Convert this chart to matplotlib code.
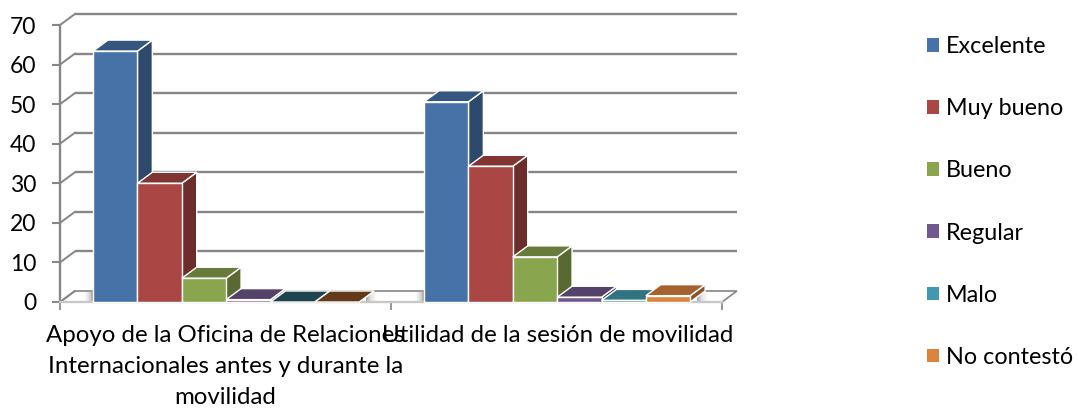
import matplotlib
matplotlib.use('Agg')
import numpy as np
import matplotlib.pyplot as plt
from matplotlib.patches import Polygon, Rectangle

plt.rcParams['font.family'] = ['Lato', 'DejaVu Sans']

categorias = ['Apoyo de la Oficina de Relaciones\nInternacionales antes y durante la\nmovilidad',
              'Utilidad de la sesión de movilidad']
series = ['Excelente', 'Muy bueno', 'Bueno', 'Regular', 'Malo', 'No contestó']
excelente = [63.4, 50.6]
muy_bueno = [30.0, 34.3]
bueno = [6.0, 11.4]
regular = [0.6, 1.2]
malo = [0.0, 0.4]
no_contesto = [0.0, 1.6]
valores = [excelente, muy_bueno, bueno, regular, malo, no_contesto]
colores = ['#4672A8', '#AA4643', '#89A54E', '#71588F', '#4198AF', '#DB843D']
y_ticks = [0, 10, 20, 30, 40, 50, 60, 70]

# profondeur du faux 3D en unites de donnees
dx = 0.045
dy = 2.78
gris = '#868686'
larg = 0.134
marge = 0.1


def assombrir(c, f):
    r = matplotlib.colors.to_rgb(c)
    return tuple(x * f for x in r)


fig = plt.figure(figsize=(10.78, 4.08), dpi=100)
ax = fig.add_axes([60 / 1078, (408 - 302) / 408, 662 / 1078, 277 / 408])
ax.set_xlim(0, 2)
ax.set_ylim(0, 70)

# sol
ax.add_patch(Polygon([(0, 0), (dx, dy), (2 + dx, dy), (2, 0)], closed=True, fc='white',
                     ec=gris, lw=1.2, clip_on=False, zorder=1))

# ombres sur le sol
n = 12
for c in range(2):
    x0 = c + marge - 0.03
    x1 = c + marge
    x2 = c + marge + 6 * larg + 0.02
    x3 = x2 + 0.04
    for k in range(n):
        a = (k + 1) / n
        xa = x0 + (x1 - x0) * k / n
        xb = x0 + (x1 - x0) * (k + 1) / n
        ax.add_patch(Polygon([(xa, 0.2), (xa, dy - 0.3), (xb, dy - 0.3), (xb, 0.2)], closed=True,
                             fc=str(1 - 0.35 * a ** 2), ec='none', clip_on=False, zorder=1.5))
        xa = x2 + (x3 - x2) * k / n
        xb = x2 + (x3 - x2) * (k + 1) / n
        ax.add_patch(Polygon([(xa, 0.2), (xa, dy - 0.3), (xb, dy - 0.3), (xb, 0.2)], closed=True,
                             fc=str(1 - 0.4 * (1 - a) ** 2), ec='none', clip_on=False, zorder=1.5))

# grille du fond + diagonales
for v in y_ticks:
    if v > 0:
        ax.plot([dx, 2 + dx], [v + dy, v + dy], color=gris, lw=1.7, clip_on=False, zorder=1,
                solid_capstyle='butt')
    ax.plot([0, dx], [v, v + dy], color=gris, lw=1.4, clip_on=False, zorder=1)

# barres
z = 3
for i, val in enumerate(valores):
    for c in range(len(categorias)):
        x = c + marge + i * larg
        h = val[c]
        coul = colores[i]
        f_top = 0.75 if h > 0 else 0.45
        ax.add_patch(Polygon([(x + larg, 0), (x + larg + dx, dy), (x + larg + dx, h + dy), (x + larg, h)],
                             closed=True, fc=assombrir(coul, 0.64), ec='white', lw=1.0, clip_on=False, zorder=z))
        ax.add_patch(Polygon([(x, h), (x + dx, h + dy), (x + larg + dx, h + dy), (x + larg, h)],
                             closed=True, fc=assombrir(coul, f_top), ec='white', lw=1.0, clip_on=False, zorder=z))
        if h > 0:
            ax.bar(x, h, width=larg, align='edge', color=coul, edgecolor='white', lw=1.0, zorder=z + 0.5,
                   clip_on=False)
    z += 1

for s in ['top', 'right']:
    ax.spines[s].set_visible(False)
ax.spines['left'].set_color(gris)
ax.spines['left'].set_linewidth(1.7)
ax.spines['bottom'].set_color('#c8c8c8')
ax.spines['bottom'].set_linewidth(1.7)
ax.patch.set_visible(False)

ax.set_yticks(y_ticks)
ax.tick_params(axis='y', length=6, width=1.5, color=gris, pad=11, labelsize=16.5, labelcolor='black')
ax.set_xticks([0.5, 1.505])
ax.set_xticklabels(categorias, linespacing=1.58)
ax.set_xticks([0, 1, 2], minor=True)
ax.tick_params(axis='x', which='major', length=0, pad=16.5, labelsize=17.3, labelcolor='black')
ax.tick_params(axis='x', which='minor', length=6, width=1.2, color=gris)

# legende
poignees = [Rectangle((0, 0), 1, 1, fc=c, ec='none') for c in colores]
fig.legend(poignees, series, loc='upper left', bbox_to_anchor=(925 / 1078, 1 - 34 / 408),
           frameon=False, fontsize=16.8, labelspacing=1.76, handlelength=0.52, handleheight=0.52,
           handletextpad=0.27, borderaxespad=0, borderpad=0.1)

fig.savefig('out.png', dpi=100)
